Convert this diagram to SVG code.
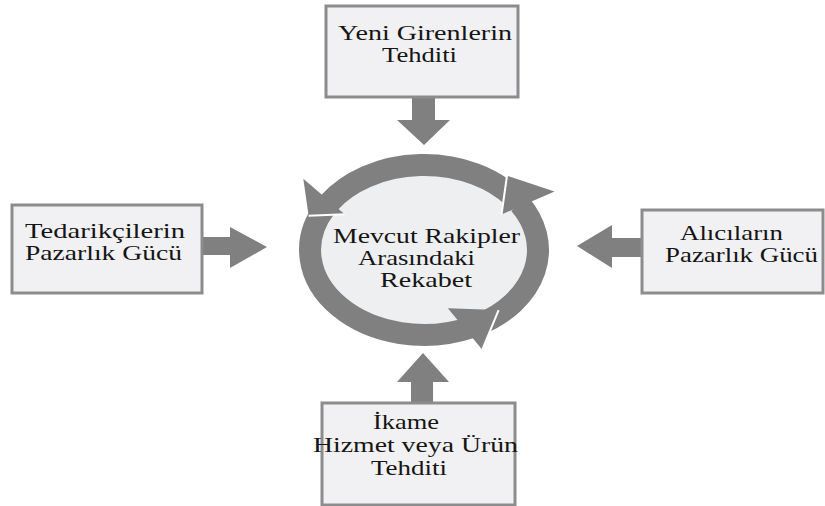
<svg xmlns="http://www.w3.org/2000/svg" width="825" height="506" viewBox="0 0 825 506">
  <style>
    .box { fill: #f1f1f3; stroke: #8c8c8c; stroke-width: 3; }
    .lbl { font-family: "Liberation Serif", "Times New Roman", serif; font-size: 21px; fill: #151515; }
    .blk { fill: #808080; }
    .band { fill: none; stroke: #808080; stroke-width: 22; stroke-linecap: butt; }
    .gap { stroke: #ffffff; stroke-width: 2; fill: none; }
  </style>
  <rect width="825" height="506" fill="#ffffff"/>

  <g id="connectors">
    <polygon class="blk" points="412,97 435,97 435,120 450,120 424,145 397,120 412,120"/>
    <polygon class="blk" points="202,237 230,237 230,227 267,247 230,268 230,255 202,255"/>
    <polygon class="blk" points="642,238 612,238 612,225 577,246 612,268 612,257 642,257"/>
    <polygon class="blk" points="411,403 411,382 397,382 423,353 449,382 433,382 433,403"/>
  </g>

  <g id="node-center">
    <ellipse cx="424" cy="250" rx="112" ry="82" fill="#eeeff1"/>
    <path class="band" d="M 513.8,197.7 A 114 85 0 0 0 329.5,202.5"/>
    <path class="band" d="M 325.3,207.5 A 114 85 0 0 0 470.4,327.6"/>
    <path class="band" d="M 479.3,324.3 A 114 85 0 0 0 519.6,203.7"/>
    <polygon class="blk" points="303.3,178.7 344.7,214.2 308.6,215.8"/>
    <polygon class="blk" points="447.8,308.3 498.6,310.1 482.3,349.7"/>
    <polygon class="blk" points="507,175.7 554.5,191.5 501.5,214.5"/>
    <line class="gap" x1="308.6" y1="215.8" x2="344.7" y2="214.2"/>
    <line class="gap" x1="498.6" y1="310.1" x2="482.3" y2="349.7"/>
    <line class="gap" x1="507" y1="175.7" x2="501.5" y2="214.5"/>
    <text class="lbl" x="333" y="243" textLength="187" lengthAdjust="spacingAndGlyphs">Mevcut Rakipler</text>
    <text class="lbl" x="358" y="265" textLength="117" lengthAdjust="spacingAndGlyphs">Arasındaki</text>
    <text class="lbl" x="380" y="287" textLength="92" lengthAdjust="spacingAndGlyphs">Rekabet</text>
  </g>

  <g id="node-top">
    <rect class="box" x="326" y="6" width="192" height="91"/>
    <text class="lbl" x="338" y="40" textLength="174" lengthAdjust="spacingAndGlyphs">Yeni Girenlerin</text>
    <text class="lbl" x="382" y="62" textLength="75" lengthAdjust="spacingAndGlyphs">Tehditi</text>
  </g>

  <g id="node-left">
    <rect class="box" x="12" y="205" width="190" height="88"/>
    <text class="lbl" x="25" y="238" textLength="160" lengthAdjust="spacingAndGlyphs">Tedarikçilerin</text>
    <text class="lbl" x="25" y="260" textLength="157" lengthAdjust="spacingAndGlyphs">Pazarlık Gücü</text>
  </g>

  <g id="node-right">
    <rect class="box" x="642" y="210" width="181" height="83"/>
    <text class="lbl" x="680" y="240" textLength="103" lengthAdjust="spacingAndGlyphs">Alıcıların</text>
    <text class="lbl" x="665" y="262" textLength="153" lengthAdjust="spacingAndGlyphs">Pazarlık Gücü</text>
  </g>

  <g id="node-bottom">
    <rect class="box" x="322" y="403" width="193" height="102"/>
    <text class="lbl" x="373" y="429" textLength="66" lengthAdjust="spacingAndGlyphs">İkame</text>
    <text class="lbl" x="313" y="452" textLength="205" lengthAdjust="spacingAndGlyphs">Hizmet veya Ürün</text>
    <text class="lbl" x="371" y="475" textLength="76" lengthAdjust="spacingAndGlyphs">Tehditi</text>
  </g>
</svg>
